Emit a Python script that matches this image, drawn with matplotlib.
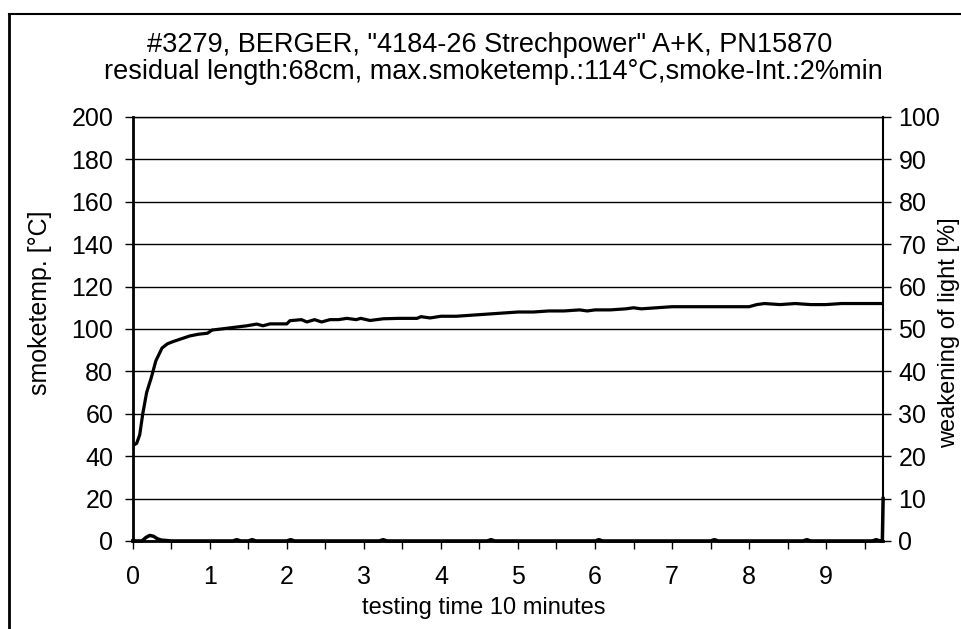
import matplotlib
matplotlib.use("Agg")
import matplotlib.pyplot as plt
from matplotlib.lines import Line2D
from matplotlib.ticker import MultipleLocator

plt.rcParams['font.family'] = ['Liberation Sans', 'DejaVu Sans']

title_lines = ['#3279, BERGER, "4184-26 Strechpower" A+K, PN15870',
               'residual length:68cm, max.smoketemp.:114°C,smoke-Int.:2%min']
xlabel = 'testing time 10 minutes'
ylabel_left = 'smoketemp. [°C]'
ylabel_right = 'weakening of light [%]'

temp_t = [0, 0.05, 0.09, 0.13, 0.18, 0.24, 0.3, 0.38, 0.45, 0.52, 0.6, 0.74,
          0.85, 0.97, 1.03, 1.15, 1.26, 1.37, 1.48, 1.61, 1.69, 1.78, 1.9, 2.0,
          2.04, 2.19, 2.26, 2.36, 2.45, 2.56, 2.67, 2.78, 2.9, 2.96, 3.08, 3.25,
          3.45, 3.69, 3.74, 3.86, 4.0, 4.2, 4.4, 4.6, 4.8, 5.0, 5.2, 5.4, 5.6,
          5.8, 5.9, 6.0, 6.2, 6.4, 6.5, 6.6, 6.8, 7.0, 7.2, 7.4, 7.6, 7.8, 8.0,
          8.1, 8.2, 8.4, 8.6, 8.8, 9.0, 9.2, 9.4, 9.6, 9.74]
temp_v = [45, 46, 50, 60, 70, 77, 85, 91, 93, 94, 95, 96.7,
          97.5, 98, 99.5, 100, 100.5, 101, 101.5, 102.3, 101.5, 102.4, 102.4, 102.4,
          103.9, 104.4, 103.3, 104.4, 103.3, 104.4, 104.4, 105, 104.4, 105, 104, 104.8,
          105, 105, 105.8, 105.2, 106, 106, 106.5, 107, 107.5, 108, 108, 108.5, 108.5,
          109, 108.5, 109, 109, 109.5, 110, 109.5, 110, 110.5, 110.5, 110.5, 110.5, 110.5, 110.5,
          111.5, 112, 111.5, 112, 111.5, 111.5, 112, 112, 112, 112]

smoke_t = [0, 0.12, 0.17, 0.22, 0.27, 0.32, 0.37, 0.5, 1.3, 1.35, 1.4, 1.5, 1.55,
           1.6, 2.0, 2.05, 2.1, 3.2, 3.25, 3.3, 4.6, 4.65, 4.7, 6.0, 6.05, 6.1,
           7.5, 7.55, 7.6, 8.7, 8.75, 8.8, 9.6, 9.65, 9.7, 9.73, 9.74]
smoke_v = [0, 0, 0.8, 1.3, 1.1, 0.5, 0.2, 0, 0, 0.3, 0, 0, 0.3,
           0, 0, 0.3, 0, 0, 0.3, 0, 0, 0.3, 0, 0, 0.3, 0,
           0, 0.3, 0, 0, 0.3, 0, 0, 0.3, 0, 0, 10]

fig = plt.figure(figsize=(9.62, 6.29), dpi=100)
ax = fig.add_axes([0.138, 0.140, 0.780, 0.674])

# figure frame (top and left edges)
fig.add_artist(Line2D([0.009, 1.0], [0.978, 0.978], color='black', lw=1.5, transform=fig.transFigure))
fig.add_artist(Line2D([0.009, 0.009], [0.0, 0.978], color='black', lw=2, transform=fig.transFigure))

ax.set_xlim(0, 9.74)
ax.set_ylim(0, 200)
ax.yaxis.set_major_locator(MultipleLocator(20))
ax.xaxis.set_major_locator(MultipleLocator(1))
ax.xaxis.set_minor_locator(MultipleLocator(0.5))
ax.grid(axis='y', color='black', lw=1)
ax.set_axisbelow(True)

ax.plot(temp_t, temp_v, color='black', lw=2.3)

for s in ['left', 'bottom']:
    ax.spines[s].set_linewidth(2)
ax.spines['top'].set_linewidth(1)
ax.spines['right'].set_visible(False)

ax.tick_params(axis='y', labelsize=18, length=6, width=1, direction='out', pad=8)
ax.tick_params(axis='x', which='major', labelsize=18, length=6, width=1, direction='out', pad=11)
ax.tick_params(axis='x', which='minor', length=6, width=1, direction='out')
ax.set_xlabel(xlabel, fontsize=17)
ax.xaxis.set_label_coords(0.468, -0.132)
ax.set_ylabel(ylabel_left, fontsize=18)
ax.yaxis.set_label_coords(-0.108, 0.563)

ax2 = ax.twinx()
ax2.set_ylim(0, 100)
ax2.yaxis.set_major_locator(MultipleLocator(10))
ax2.plot(smoke_t, smoke_v, color='black', lw=2.5, clip_on=False)
ax2.spines['right'].set_linewidth(1.5)
for s in ['left', 'top', 'bottom']:
    ax2.spines[s].set_visible(False)
ax2.tick_params(axis='y', labelsize=18, length=6, width=1, direction='out', pad=5)
ax2.set_ylabel(ylabel_right, fontsize=17)
ax2.yaxis.set_label_coords(1.073, 0.491)

fig.text(0.509, 0.929, title_lines[0], ha='center', va='center', fontsize=19.5)
fig.text(0.5125, 0.886, title_lines[1], ha='center', va='center', fontsize=19.5)

fig.savefig('out.png', dpi=100)
